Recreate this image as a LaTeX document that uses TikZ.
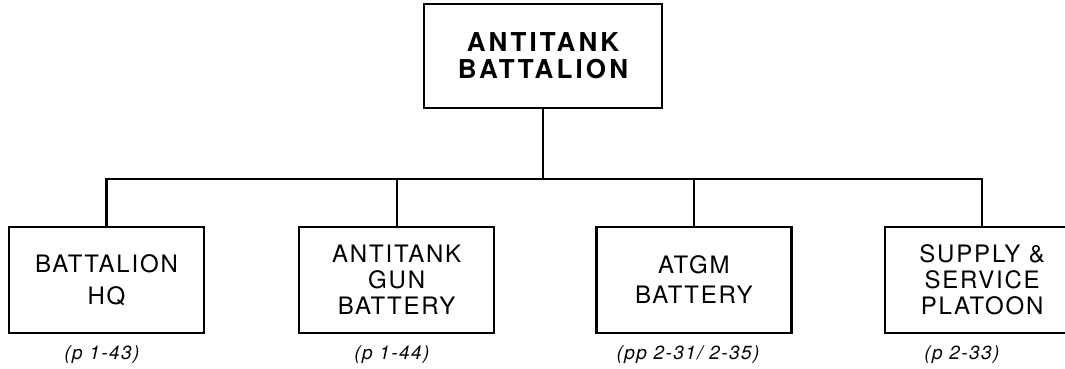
\documentclass[tikz,border=0pt]{standalone}
\usepackage{fontspec}
\setmainfont[LetterSpace=7.5]{TeX Gyre Heros}
\newfontfamily\headfont[LetterSpace=12]{TeX Gyre Heros}
\usetikzlibrary{positioning}

\begin{document}
\begin{tikzpicture}[
    x=1pt, y=1pt,
    head/.style={draw, line width=2.2pt, minimum width=238pt, minimum height=104pt, align=center, font=\headfont\bfseries\fontsize{26}{27}\selectfont},
    unit/.style={draw, line width=2.2pt, minimum width=195pt, minimum height=106pt, align=center, inner sep=0pt, font=\fontsize{24}{26}\selectfont},
    ref/.style={anchor=base, font=\itshape\fontsize{19}{20}\selectfont},
    conn/.style={line width=2.2pt}
  ]
    \useasboundingbox (0,0) rectangle (1065,368);
    \clip (0,0) rectangle (1065,368);
    \node[head] (bn) at (543,312) {ANTITANK\\BATTALION};
    \node[unit] (hq) at (106.5,88) {BATTALION\\[6pt]HQ};
    \node[unit, right=93pt of hq] (gun) {ANTITANK\\GUN\\BATTERY};
    \node[unit, right=100pt of gun] (atgm) {ATGM\\[4pt]BATTERY};
    \node[unit, right=91pt of atgm] (supply) {SUPPLY \&\\SERVICE\\PLATOON};

    \node[ref] (hqref) at (102,9) {(p 1-43)};
    \node[ref] (gunref) at (392,9) {(p 1-44)};
    \node[ref] (atgmref) at (688,9) {(pp 2-31/ 2-35)};
    \node[ref] (supplyref) at (962,9) {(p 2-33)};

    \coordinate (bus) at (0,189);
    \draw[conn] (bn.south) -- (bn.south |- bus);
    \draw[conn] (hq.north) |- (supply.north |- bus) -- (supply.north);
    \draw[conn] (gun.north) -- (gun.north |- bus);
    \draw[conn] (atgm.north) -- (atgm.north |- bus);
  \end{tikzpicture}
\end{document}
